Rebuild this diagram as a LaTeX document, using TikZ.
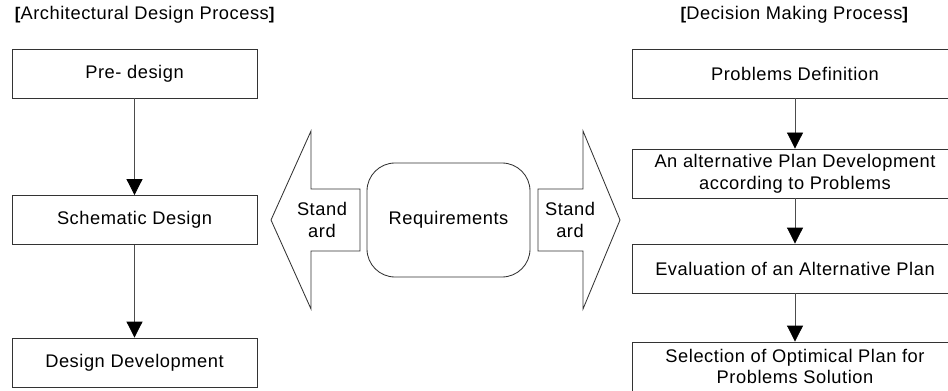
\documentclass[tikz,border=0pt]{standalone}
\usepackage{fontspec}
\setmainfont{Liberation Sans}[LetterSpace=3]
\usepackage{tikz}
\usetikzlibrary{arrows.meta}
\tikzset{>/.tip={Triangle[width=0.4cm,length=0.4cm,color=black]},
  stepbox/.style={draw=black!80, line width=0.6pt, minimum height=1.225cm, align=center, inner sep=0pt},
  leftbox/.style={stepbox, minimum width=6.125cm},
  rightbox/.style={stepbox, minimum width=8.15cm},
  flow/.style={->, draw=black!70, line width=0.6pt},
  bigarrow/.style={draw=black!80, line width=0.6pt}}
\newcommand{\brk}[1]{{\bfseries\large #1}}

\begin{document}
\begin{tikzpicture}[font=\fontsize{13}{15.5}\selectfont]
\clip (0,0) rectangle (23.7,9.75);
\node[anchor=west] (lt) at (0.25,9.375) {\brk{[}Architectural Design Process\brk{]}};
\node (rt) at (19.86,9.375) {\brk{[}Decision Making Process\brk{]}};

\node[leftbox] (pre) at (3.3625,7.9125) {Pre- design};
\node[leftbox] (sch) at (3.3625,4.25)   {Schematic Design};
\node[leftbox] (dev) at (3.3625,0.6875) {Design Development};

\node[rightbox] (def) at (19.875,7.9125) {Problems Definition};
\node[rightbox] (alt) at (19.875,5.4125) {An alternative Plan Development\\according to Problems};
\node[rightbox] (eva) at (19.875,3.0375) {Evaluation of an Alternative Plan};
\node[rightbox] (sel) at (19.875,0.5875) {Selection of Optimical Plan for\\Problems Solution};

\node[draw=black!80, line width=0.6pt, rounded corners=0.7cm, minimum width=4.075cm, minimum height=2.85cm] (req) at (11.2125,4.25) {Requirements};

% standard arrows
\draw[bigarrow] (6.775,4.25) -- (7.775,6.475) -- (7.775,5.025) -- (9.0,5.025) -- (9.0,3.475) -- (7.775,3.475) -- (7.775,2.025) -- cycle;
\draw[bigarrow] (15.5,4.25) -- (14.575,6.475) -- (14.575,5.025) -- (13.45,5.025) -- (13.45,3.475) -- (14.575,3.475) -- (14.575,2.025) -- cycle;
\node[align=center] (sl) at (8.05,4.25) {Stand\\ard};
\node[align=center] (sr) at (14.25,4.25) {Stand\\ard};

\draw[flow] (pre) to (sch);
\draw[flow] (sch) to (dev);
\draw[flow] (def) to (alt);
\draw[flow] (alt) to (eva);
\draw[flow] (eva) to (sel);
\end{tikzpicture}
\end{document}
